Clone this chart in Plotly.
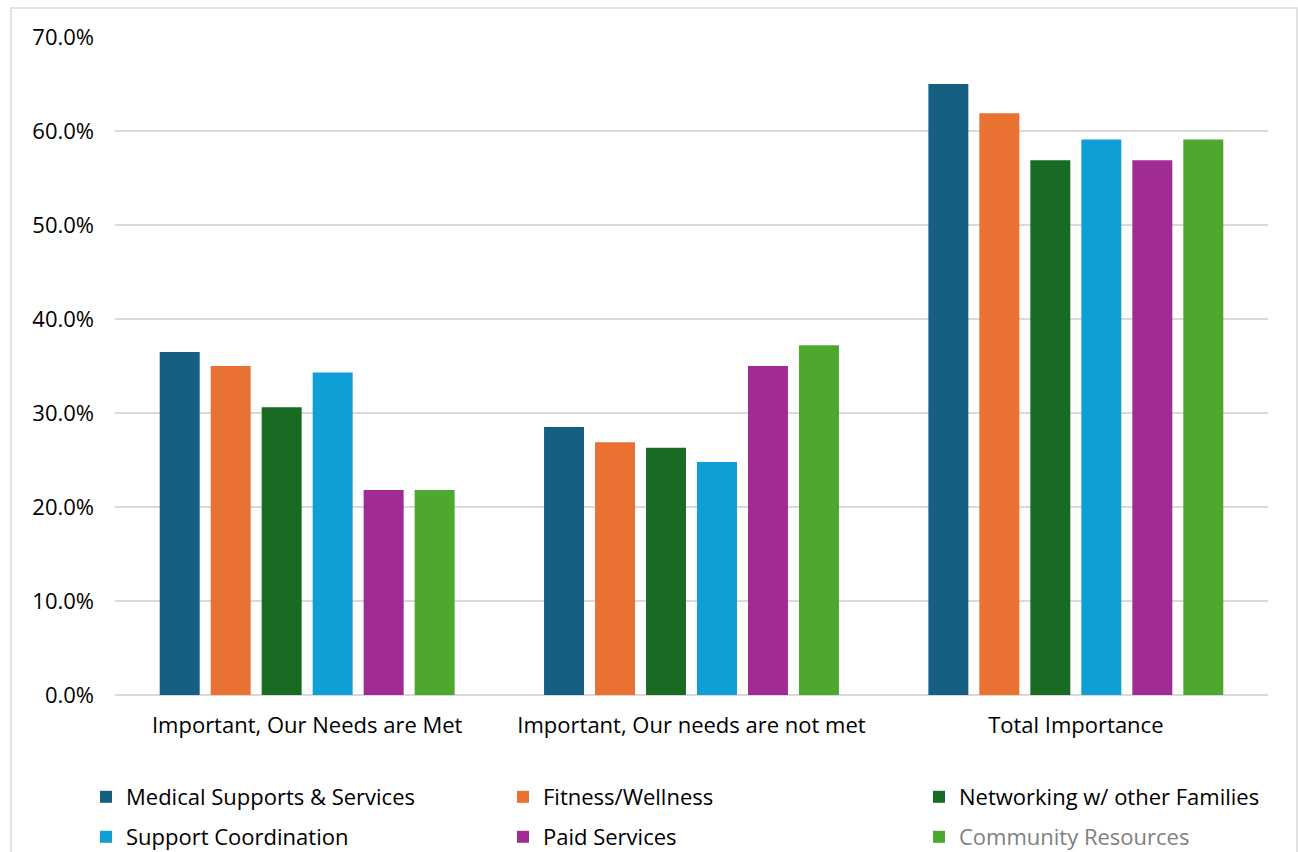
import plotly.graph_objects as go

categories = ["Important, Our Needs are Met", "Important, Our needs are not met", "Total Importance"]
series_names = ["Medical Supports & Services", "Fitness/Wellness", "Networking w/ other Families",
                "Support Coordination", "Paid Services", "Community Resources"]
medical = [36.5, 28.5, 65.0]
fitness = [35.0, 26.9, 61.9]
networking = [30.6, 26.3, 56.9]
support = [34.3, 24.8, 59.1]
paid = [21.8, 35.0, 56.9]
community = [21.8, 37.2, 59.1]
series_values = [medical, fitness, networking, support, paid, community]
colors = ["#156082", "#E97132", "#196B24", "#0F9ED5", "#A02B93", "#4EA72E"]
y_ticks = [0, 10, 20, 30, 40, 50, 60, 70]
y_tick_text = [f"{v:.1f}%" for v in y_ticks]

FONT = "Open Sans, Liberation Sans, Arial, sans-serif"
FS = 22
W, H = 1298, 852
L, R, T, B = 115, 30, 37, 157
pw, ph = W - L - R, H - T - B

def px_x(x):
    return (x - L) / pw

def px_y(y):
    return (H - B - y) / ph

legend_ids = ["legend"] + [f"legend{k}" for k in range(2, 7)]
col_px = [86, 503, 919]
row_top_px = [776, 816]

fig = go.Figure()
for i, (name, vals, col) in enumerate(zip(series_names, series_values, colors)):
    label = name
    if name == "Community Resources":
        label = "<span style='color:#808080'>Community Resources</span>"
    fig.add_trace(go.Bar(
        x=categories, y=vals, name=label,
        marker=dict(color=col, line=dict(width=0)),
        hoverinfo="x+y+name",
        legend=legend_ids[i],
    ))

legend_layout = {}
for i, lid in enumerate(legend_ids):
    legend_layout[lid] = dict(
        orientation="h", xanchor="left", yanchor="top",
        xref="container", yref="container",
        x=col_px[i % 3] / W, y=1 - row_top_px[i // 3] / H,
        font=dict(size=FS), itemwidth=30, bgcolor="rgba(0,0,0,0)",
    )

fig.update_layout(
    width=W, height=H,
    margin=dict(l=L, r=R, t=T, b=B, pad=0),
    paper_bgcolor="white", plot_bgcolor="white",
    barmode="group", bargap=0.204, bargroupgap=0.216,
    font=dict(family=FONT, size=FS, color="#000000"),
    xaxis=dict(showgrid=False, showline=False, ticks="", tickfont=dict(size=FS),
               ticklabelstandoff=15),
    yaxis=dict(range=[0, 70], tickvals=y_ticks, ticktext=y_tick_text,
               showgrid=True, gridcolor="#d9d9d9", gridwidth=1.5,
               zeroline=True, zerolinecolor="#d9d9d9", zerolinewidth=1.5,
               showline=False, ticks="", ticklabelstandoff=20, tickfont=dict(size=FS)),
    showlegend=True,
    shapes=[dict(type="rect", xref="paper", yref="paper",
                 x0=px_x(11), x1=px_x(1297), y0=px_y(870), y1=px_y(8),
                 line=dict(color="#d9d9d9", width=1.5), fillcolor="rgba(0,0,0,0)", layer="below")],
    **legend_layout,
)

fig.write_html("out.html")
